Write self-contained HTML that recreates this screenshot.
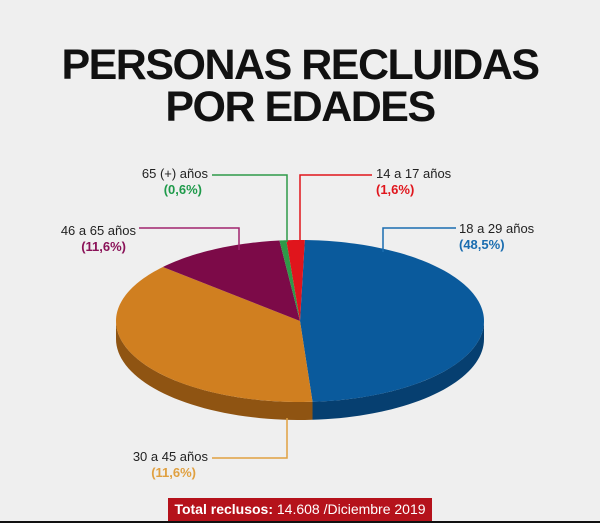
<!DOCTYPE html>
<html><head><meta charset="utf-8"><style>
body{margin:0;background:#efefef;width:600px;height:523px;overflow:hidden;font-family:"Liberation Sans",sans-serif;position:relative}
.t{position:absolute;left:0;width:600px;text-align:center;font-weight:900;font-size:43px;color:#111;letter-spacing:-1.5px;line-height:44px}
.lb{position:absolute;font-size:13px;color:#222;line-height:16px;white-space:nowrap}
.lb b{font-weight:bold}
</style></head><body>
<div class="t" style="top:43px">PERSONAS RECLUIDAS</div>
<div class="t" style="top:85px">POR EDADES</div>
<svg id="pie" width="600" height="523" style="position:absolute;left:0;top:0"></svg>
<div class="lb" style="left:126px;top:166px;text-align:right;width:82px">65 (+) años<br><b style="color:#1e9a4a;margin-right:6px">(0,6%)</b></div>
<div class="lb" style="left:376px;top:166px">14 a 17 años<br><b style="color:#e0151c">(1,6%)</b></div>
<div class="lb" style="left:50px;top:223px;text-align:right;width:86px">46 a 65 años<br><b style="color:#8a1258;margin-right:10px">(11,6%)</b></div>
<div class="lb" style="left:459px;top:221px">18 a 29 años<br><b style="color:#1a6db0">(48,5%)</b></div>
<div class="lb" style="left:118px;top:449px;text-align:right;width:90px">30 a 45 años<br><b style="color:#e0a040;margin-right:12px">(11,6%)</b></div>
<div style="position:absolute;left:168px;top:498px;width:264px;height:23px;background:#b5121b;color:#fff;font-size:14px;line-height:23px;text-align:center"><b>Total reclusos:</b> 14.608 /Diciembre 2019</div>
<div style="position:absolute;left:0;top:521px;width:600px;height:2px;background:#111"></div>
<script>
const categories=["18 a 29 años","30 a 45 años","46 a 65 años","65 (+) años","14 a 17 años"];
const values=[48.5,37.7,11.6,0.6,1.6];
const colors=["#0a5a9c","#d07f20","#7c0a48","#2e9a48","#e0151c"];
const sideColors=["#063f70","#8f5412","#55062f","#1f6a31","#9c0e12"];
const svg=document.getElementById('pie');
const NS="http://www.w3.org/2000/svg";
const cx=300,cy=321,rx=184,ry=81,depth=18;
const total=values.reduce((a,b)=>a+b,0);
function pt(t,dy){return [cx+rx*Math.sin(t),cy-ry*Math.cos(t)+(dy||0)];}
let start=1.5*Math.PI/180;
const slices=[];
values.forEach((v,i)=>{const a=v/total*2*Math.PI;slices.push([start,start+a,i]);start+=a;});
slices.forEach(([a0,a1,i])=>{
  const lo=Math.max(a0,Math.PI/2),hi=Math.min(a1,3*Math.PI/2);
  if(hi<=lo)return;
  let d="";const n=40;
  for(let k=0;k<=n;k++){const p=pt(lo+(hi-lo)*k/n);d+=(k?"L":"M")+p[0]+","+p[1];}
  for(let k=n;k>=0;k--){const p=pt(lo+(hi-lo)*k/n,depth);d+="L"+p[0]+","+p[1];}
  const e=document.createElementNS(NS,'path');
  e.setAttribute('d',d+"Z");e.setAttribute('fill',sideColors[i]);
  
  
  svg.appendChild(e);
});
slices.forEach(([a0,a1,i])=>{
  let d="M"+cx+","+cy;const n=Math.max(4,Math.ceil((a1-a0)*40));
  for(let k=0;k<=n;k++){const p=pt(a0+(a1-a0)*k/n);d+="L"+p[0]+","+p[1];}
  const e=document.createElementNS(NS,'path');
  e.setAttribute('d',d+"Z");e.setAttribute('fill',colors[i]);
  
  
  svg.appendChild(e);
});
const leaders=[["M212,175H287V242","#2e9a48"],["M300,242V175H372","#e0151c"],["M139,228H239V250","#a0236e"],["M383,252V228H456","#1a6db0"],["M287,418V458H212","#e0a040"]];
leaders.forEach(([d,c],k)=>{
  const e=document.createElementNS(NS,'path');
  e.setAttribute('d',d);e.setAttribute('fill','none');e.setAttribute('stroke',c);e.setAttribute('stroke-width','1.5');
  
  
  svg.appendChild(e);
});
</script>
</body></html>
